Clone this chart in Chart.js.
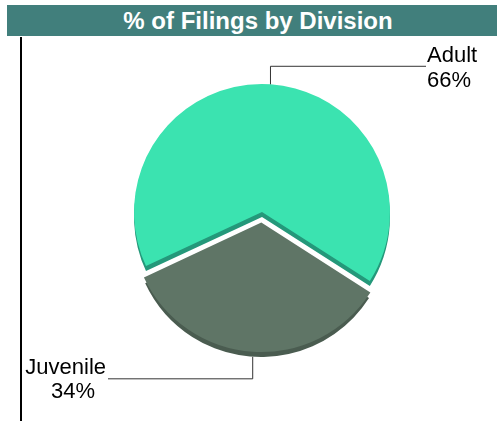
<!DOCTYPE html>
<html>
<head>
<meta charset="utf-8">
<script src="https://cdn.jsdelivr.net/npm/chart.js@4"></script>
<style>
  html, body { margin: 0; padding: 0; background: #fff; }
  #wrap { position: relative; width: 499px; height: 421px; overflow: hidden; }
  #chartBox { position: absolute; left: 0; top: 0; width: 499px; height: 421px; }
  #titleBar {
    position: absolute; left: 7px; top: 5px; width: 490px; height: 31px;
    background: #417f7c; color: #fff; text-align: center;
    font: bold 24px "Liberation Sans", Arial, sans-serif; line-height: 31px;
    padding-left: 12px; box-sizing: border-box;
  }
  #leftRule { position: absolute; left: 20px; top: 37px; width: 2px; height: 384px; background: #000; }
</style>
</head>
<body>
<div id="wrap">
  <div id="chartBox"><canvas id="divisionChart"></canvas></div>
  <div id="titleBar">% of Filings by Division</div>
  <div id="leftRule"></div>
</div>
<script>
// Dữ liệu biểu đồ
const divisions = ["Adult", "Juvenile"];
const filingShares = [66, 34];
const sliceColors = ["#3be3b0", "#5f7566"];
const sideColors = ["#24987a", "#4a5c50"];
const sliceOffsets = [0, 42];

const DEPTH = 5; // độ dày hiệu ứng 3D
const labelFont = '22px "Liberation Sans", Arial, sans-serif';

// Tính độ dịch thực tế của lát (giống cách ArcElement của Chart.js v4 dịch)
function arcShift(arc) {
  const off = (arc.options.offset || 0) / 4;
  const fix = 1 - Math.sin(Math.min(Math.PI, arc.circumference || 0));
  return off + off * fix;
}

// Tâm thực tế của lát sau khi tách ra
function arcCenter(arc) {
  const mid = (arc.startAngle + arc.endAngle) / 2;
  const s = arcShift(arc);
  return { x: arc.x + Math.cos(mid) * s, y: arc.y + Math.sin(mid) * s, mid: mid };
}

// Vẽ mặt bên (tạo cảm giác 3D) trước khi vẽ các lát
const sidePlugin = {
  id: "pieSide",
  beforeDatasetsDraw(chart) {
    const ctx = chart.ctx;
    const arcs = chart.getDatasetMeta(0).data;
    arcs.forEach((arc, i) => {
      const c = arcCenter(arc);
      ctx.save();
      ctx.fillStyle = sideColors[i];
      ctx.beginPath();
      ctx.moveTo(c.x, c.y + DEPTH);
      ctx.arc(c.x, c.y + DEPTH, arc.outerRadius, arc.startAngle, arc.endAngle);
      ctx.closePath();
      ctx.fill();
      ctx.restore();
    });
  }
};

// Vẽ đường dẫn và nhãn cho từng lát
const leaderPlugin = {
  id: "leaderLabels",
  afterDatasetsDraw(chart) {
    const ctx = chart.ctx;
    const arcs = chart.getDatasetMeta(0).data;
    const total = filingShares.reduce((a, b) => a + b, 0);
    arcs.forEach((arc, i) => {
      const c = arcCenter(arc);
      const r = arc.outerRadius;
      const px = c.x + Math.cos(c.mid) * r;
      const pct = Math.round(filingShares[i] / total * 100) + "%";

      ctx.save();
      ctx.strokeStyle = "#333";
      ctx.lineWidth = 1;
      ctx.fillStyle = "#000";
      ctx.font = labelFont;
      ctx.beginPath();
      if (Math.sin(c.mid) < 0) {
        // nhãn phía trên bên phải
        const py = c.y + Math.sin(c.mid) * r;
        const ey = py - 18;
        const lx = arc.x + r + 36;
        ctx.moveTo(px, py);
        ctx.lineTo(px, ey);
        ctx.lineTo(lx, ey);
        ctx.stroke();
        ctx.textAlign = "left";
        ctx.fillText(divisions[i], lx + 1, ey - 4);
        ctx.fillText(pct, lx + 1, ey + 21);
      } else {
        // nhãn phía dưới bên trái
        const py = c.y + Math.sin(c.mid) * r + DEPTH;
        const ey = py + 22;
        const lx = arc.x - r - 26;
        ctx.moveTo(px, py);
        ctx.lineTo(px, ey);
        ctx.lineTo(lx, ey);
        ctx.stroke();
        ctx.textAlign = "right";
        ctx.fillText(divisions[i], lx - 2, ey - 5);
        ctx.textAlign = "center";
        ctx.fillText(pct, lx - 35, ey + 19);
      }
      ctx.restore();
    });
  }
};

const ctx = document.getElementById("divisionChart").getContext("2d");
new Chart(ctx, {
  type: "pie",
  data: {
    labels: divisions,
    datasets: [{
      data: filingShares,
      backgroundColor: sliceColors,
      borderWidth: 0,
      offset: sliceOffsets,
      hoverOffset: 0
    }]
  },
  options: {
    responsive: true,
    maintainAspectRatio: false,
    animation: false,
    rotation: 245,
    radius: 128,
    layout: { padding: { left: 25, right: 0, top: 3, bottom: 0 } },
    plugins: {
      legend: { display: false },
      title: { display: false },
      tooltip: { enabled: false }
    }
  },
  plugins: [sidePlugin, leaderPlugin]
});
</script>
</body>
</html>
